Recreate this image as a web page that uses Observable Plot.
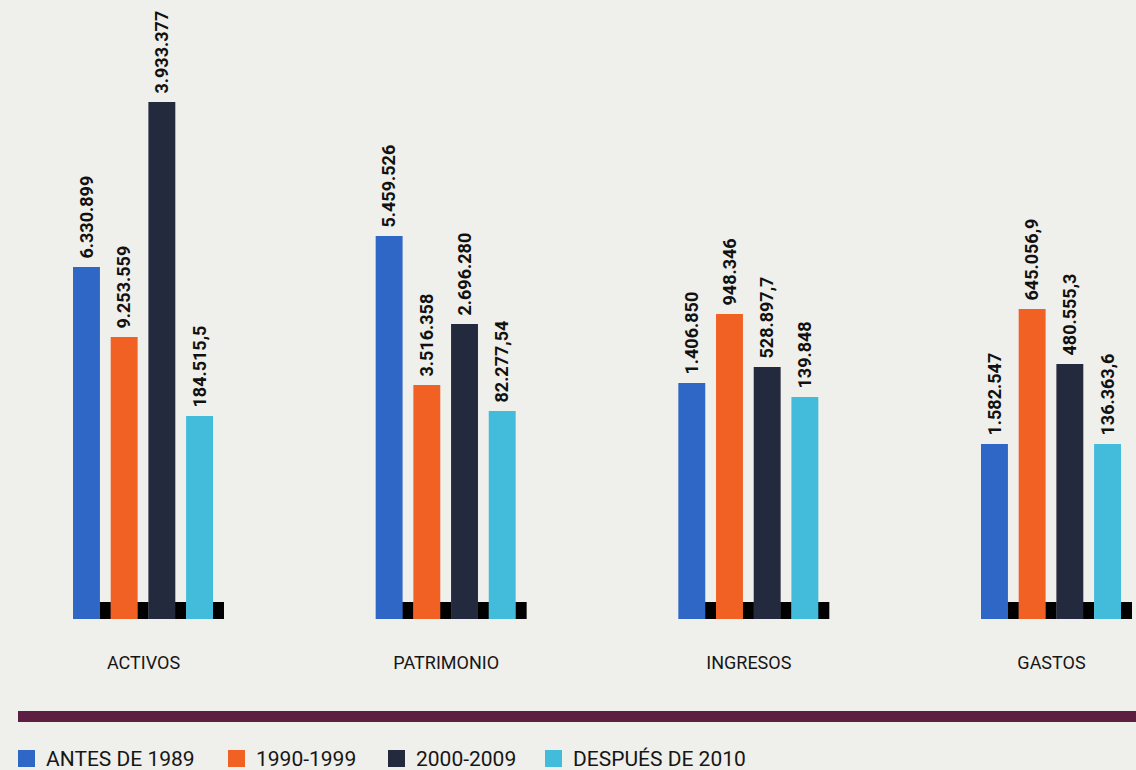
<!DOCTYPE html>
<html>
<head>
<meta charset="utf-8">
<script src="https://cdn.jsdelivr.net/npm/d3@7"></script>
<script src="https://cdn.jsdelivr.net/npm/@observablehq/plot@0.6"></script>
<style>
  html, body { margin: 0; padding: 0; background: #efefeb; width: 1136px; height: 770px; overflow: hidden; }
  body { font-family: Roboto, "Noto Sans", sans-serif; position: relative; }
  #chart svg { display: block; background: transparent; }
  #rule { position: absolute; left: 18px; right: 0; top: 711px; height: 11px; background: #5c1f42; }
  .item { position: absolute; top: 748px; height: 23px; }
  .sw { position: absolute; left: 0; top: 2px; width: 17px; height: 17px; }
  .lab { position: absolute; left: 28px; top: 0; font-size: 21px; line-height: 22px; color: #161616; white-space: nowrap; }
</style>
</head>
<body>
<div id="chart"></div>
<div id="rule"></div>
<div id="legend"></div>
<script>
// Categories and series
const categories = ["ACTIVOS", "PATRIMONIO", "INGRESOS", "GASTOS"];
const series = ["ANTES DE 1989", "1990-1999", "2000-2009", "DESPUÉS DE 2010"];
const colors = ["#2e67c5", "#f26124", "#242a3d", "#43bcdb"];

// Printed value labels (as they appear in the chart)
const labelsAntes   = ["6.330.899", "5.459.526", "1.406.850", "1.582.547"];
const labels1990    = ["9.253.559", "3.516.358", "948.346", "645.056,9"];
const labels2000    = ["3.933.377", "2.696.280", "528.897,7", "480.555,3"];
const labelsDespues = ["184.515,5", "82.277,54", "139.848", "136.363,6"];

// Bar heights as drawn in the picture (relative units)
const heightsAntes   = [352, 383, 236, 175];
const heights1990    = [282, 234, 305, 310];
const heights2000    = [517, 295, 252, 255];
const heightsDespues = [203, 208, 222, 175];

// Small black base marker beside each bar (relative units)
const markerHeight = 17;

const heightSets = [heightsAntes, heights1990, heights2000, heightsDespues];
const labelSets = [labelsAntes, labels1990, labels2000, labelsDespues];

const data = [];
categories.forEach((c, ci) => {
  series.forEach((s, si) => {
    data.push({category: c, series: s, value: heightSets[si][ci], label: labelSets[si][ci], marker: markerHeight});
  });
});

const xPadding = 0.286;
const facetBand = 140;
const barWidth = facetBand / (4 - xPadding) * (1 - xPadding);

const chart = Plot.plot({
  width: 1136,
  height: 700,
  marginLeft: 58,
  marginRight: 0,
  marginTop: 79,
  marginBottom: 81,
  style: {background: "transparent", fontFamily: "Roboto, 'Noto Sans', sans-serif", color: "#161616"},
  fx: {domain: categories, paddingInner: 0.5375, paddingOuter: 0.0496, round: false, label: null},
  x: {domain: series, paddingInner: xPadding, paddingOuter: 0, round: false, axis: null},
  y: {domain: [0, 540], axis: null},
  color: {domain: series, range: colors},
  marks: [
    Plot.barY(data, {fx: "category", x: "series", y: "marker", fill: "#000", insetLeft: barWidth - 0.5, insetRight: -11}),
    Plot.barY(data, {fx: "category", x: "series", y: "value", fill: "series"}),
    Plot.text(data, {
      fx: "category", x: "series", y: "value", text: "label",
      rotate: -90, textAnchor: "start", lineAnchor: "middle", dy: -9,
      fontSize: 18, fontWeight: "bold", fill: "#111"
    }),
    Plot.axisFx({anchor: "bottom", tickSize: 0, tickPadding: 37, fontSize: 18, label: null, fill: "#161616"})
  ]
});
document.getElementById("chart").appendChild(chart);

// Legend
const legendLefts = [18, 228, 388, 545];
const legend = document.getElementById("legend");
series.forEach((s, i) => {
  const item = document.createElement("div");
  item.className = "item";
  item.style.left = legendLefts[i] + "px";
  const sw = document.createElement("div");
  sw.className = "sw";
  sw.style.background = colors[i];
  const lab = document.createElement("div");
  lab.className = "lab";
  lab.textContent = s;
  item.appendChild(sw);
  item.appendChild(lab);
  legend.appendChild(item);
});
</script>
</body>
</html>
